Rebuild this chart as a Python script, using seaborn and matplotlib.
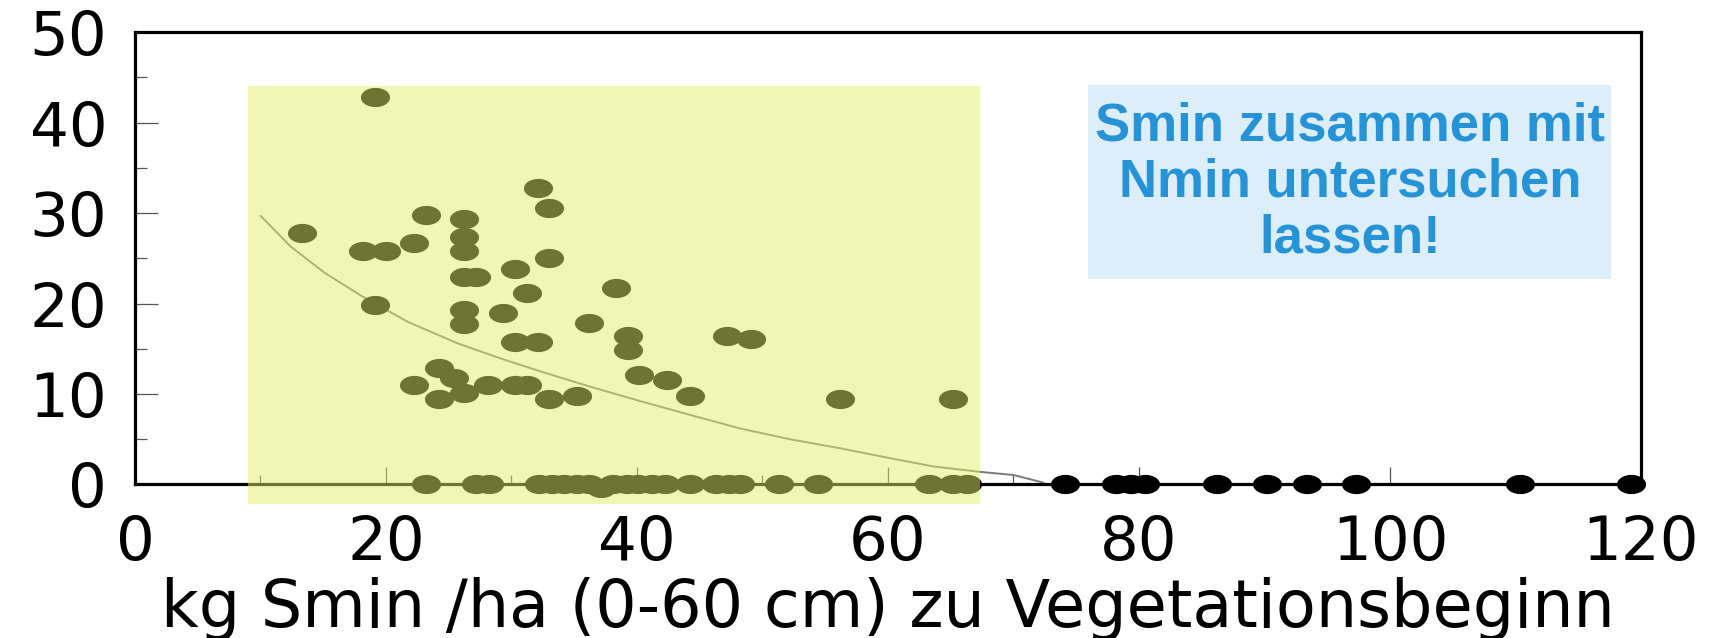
import matplotlib
matplotlib.use("Agg")
import matplotlib.pyplot as plt
import seaborn as sns
import pandas as pd
from matplotlib.path import Path
from matplotlib.patches import Rectangle
from matplotlib.transforms import Affine2D
from matplotlib.ticker import MultipleLocator

# points with a response above zero (Smin kg/ha, response)
smin_x = [13.3, 18.2, 20.0, 19.1, 19.1, 22.2, 23.2, 22.2, 24.2, 24.2,
          25.4, 26.2, 26.2, 26.2, 26.2, 27.2, 26.2, 26.2, 26.2, 28.1,
          29.3, 30.3, 31.2, 30.3, 32.1, 30.3, 31.2, 32.1, 33.0, 33.0,
          33.0, 35.2, 36.2, 38.3, 39.3, 39.3, 40.2, 42.4, 44.2, 47.2,
          49.1, 56.2, 65.2]
smin_y = [27.8, 25.8, 25.8, 42.8, 19.8, 26.7, 29.8, 11.0, 12.9, 9.5,
          11.8, 29.3, 27.3, 25.8, 22.9, 22.9, 19.3, 17.7, 10.1, 11.0,
          19.0, 23.8, 21.2, 15.8, 15.8, 11.0, 11.0, 32.8, 30.5, 25.0,
          9.4, 9.8, 17.8, 21.7, 16.4, 14.9, 12.1, 11.6, 9.8, 16.4,
          16.1, 9.4, 9.4]

# points without response (on the zero line)
zero_x = [23.2, 27.2, 28.2, 32.2, 33.2, 34.2, 35.2, 36.2, 37.1, 38.1,
          39.2, 40.1, 41.2, 42.2, 44.2, 46.3, 47.3, 48.2, 51.3, 54.4,
          63.3, 65.2, 66.3, 74.1, 78.2, 79.4, 80.5, 86.2, 90.2, 93.4,
          97.3, 110.4, 119.2]
zero_y = [0, 0, 0, 0, 0, 0, 0, 0, -0.4, 0,
          0, 0, 0, 0, 0, 0, 0, 0, 0, 0,
          0, 0, 0, 0, 0, 0, 0, 0, 0, 0,
          0, 0, 0]

# fitted curve
curve_x = [10.0, 12.4, 15.1, 18.1, 21.7, 25.7, 29.2, 32.3, 36.3, 40.3,
           44.2, 48.2, 52.2, 56.2, 60.2, 63.6, 67.3, 70.0, 72.4]
curve_y = [29.7, 26.3, 23.4, 20.8, 18.0, 15.6, 13.9, 12.5, 10.8, 9.2,
           7.7, 6.2, 5.0, 4.0, 2.9, 2.0, 1.4, 1.05, 0.2]

x_ticks = [0, 20, 40, 60, 80, 100, 120]
y_ticks = [0, 10, 20, 30, 40, 50]

note = "Smin zusammen mit\nNmin untersuchen\nlassen!"
xlabel = "kg Smin /ha (0-60 cm) zu Vegetationsbeginn"

pts = pd.DataFrame({"smin": smin_x + zero_x, "resp": smin_y + zero_y})

sns.set_style("ticks")
plt.rcParams["font.family"] = ["DejaVu Sans"]

fig, ax = plt.subplots(figsize=(17.35, 6.38), dpi=100)
fig.subplots_adjust(left=0.0778, right=0.9458, bottom=0.2406, top=0.9498)

# stretched dots -> elliptical marker
ell = Path.unit_circle().transformed(Affine2D().scale(1.0, 0.66))

sns.lineplot(x=curve_x, y=curve_y, color="#7a7a7a", linewidth=1.4, ax=ax, zorder=2)
sns.scatterplot(data=pts, x="smin", y="resp", color="black", s=440, marker=ell,
                linewidth=0, ax=ax, zorder=3, clip_on=False)

ax.set_xlim(0, 120)
ax.set_ylim(0, 50)
ax.set_xticks(x_ticks)
ax.set_yticks(y_ticks)
ax.xaxis.set_minor_locator(MultipleLocator(10))
ax.yaxis.set_minor_locator(MultipleLocator(5))

ax.tick_params(which="both", direction="in", color="#555555", width=0.9,
               labelcolor="black", labelsize=44)
ax.tick_params(axis="y", which="major", length=16.5, pad=20)
ax.tick_params(axis="y", which="minor", length=8.6)
ax.tick_params(axis="x", which="major", length=12, pad=21)
ax.tick_params(axis="x", which="minor", length=6.5)

for sp in ax.spines.values():
    sp.set_visible(True)
    sp.set_linewidth(2.3)
    sp.set_color("black")

ax.set_xlabel(xlabel, fontsize=47, labelpad=3, color="black")
ax.set_ylabel("")

# yellow highlight laid over the dots (makes them olive)
ax.add_patch(Rectangle((9.0, -2.1), 58.3, 46.15, facecolor="#E0F164", alpha=0.49,
                       edgecolor="none", zorder=10, clip_on=False))

# note box
ax.add_patch(Rectangle((75.9, 22.7), 41.7, 21.4, facecolor="#DDEEF9",
                       edgecolor="none", zorder=4))
ax.text(96.8, 33.4, note, ha="center", va="center", fontsize=38, fontweight="bold",
        color="#2593D6", family=["Liberation Sans"], linespacing=1.15, zorder=5)

fig.savefig("out.png", dpi=100)
